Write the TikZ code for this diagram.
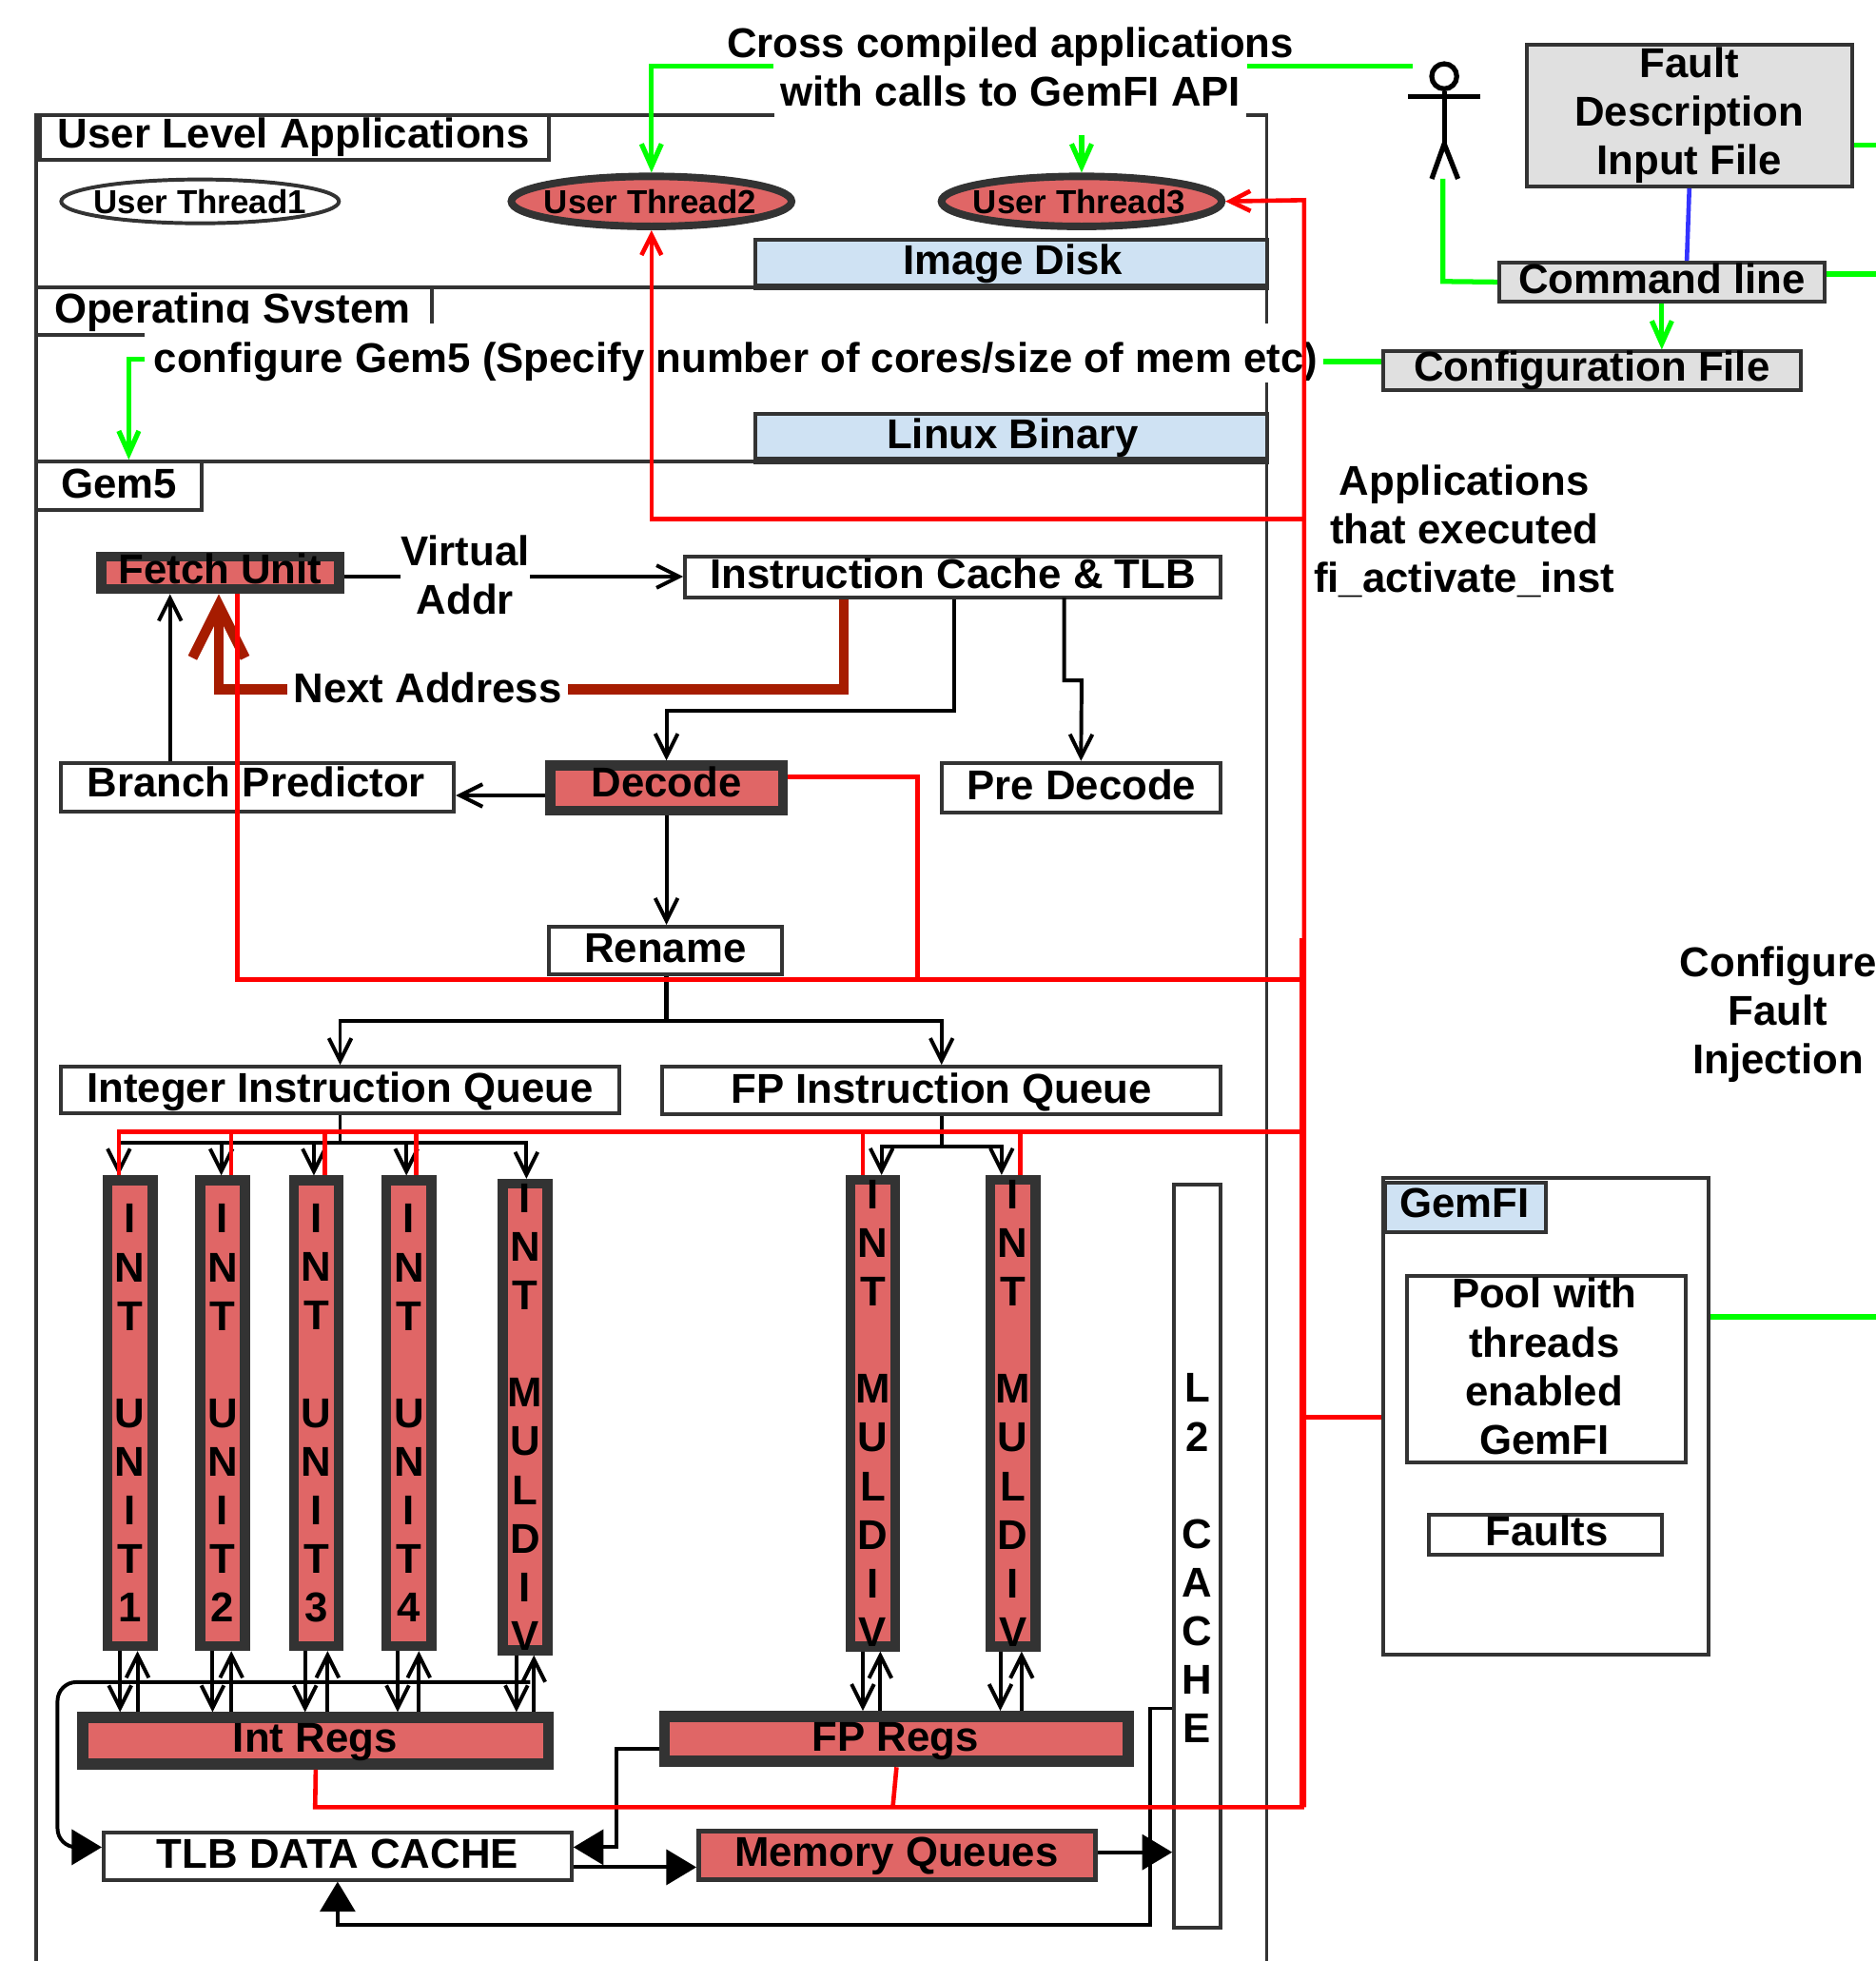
\documentclass[tikz,border=0pt]{standalone}
\usepackage{fontspec}
\setmainfont{Liberation Sans}
\usetikzlibrary{arrows.meta,shapes.geometric}
\definecolor{darkline}{HTML}{333333}
\definecolor{redfill}{HTML}{E06666}
\definecolor{bluefill}{HTML}{CFE2F3}
\definecolor{grayfill}{HTML}{E0E0E0}
\definecolor{darkred}{HTML}{A61C00}
\tikzset{
	every node/.style={font=\fontsize{9.47}{11.06}\selectfont\bfseries,inner sep=0pt,align=center},
	plainbox/.style={draw=darkline,fill=white,line width=.03cm},
	graybox/.style={plainbox,fill=grayfill},
	bluebox/.style={plainbox,fill=bluefill},
	redbox/.style={draw=darkline,fill=redfill,line width=.08cm},
	unitbox/.style={redbox,minimum width=.36cm,minimum height=3.72cm},
	threadnode/.style={ellipse,redbox,line width=.06cm,minimum width=2.24cm,minimum height=.40cm},
	threadtext/.style={font=\fontsize{7.55}{10}\selectfont\bfseries},
	whitelabel/.style={fill=white},
	frameline/.style={draw=darkline,line width=.03cm},
	blackline/.style={black,line width=.03cm,-{Straight Barb[length=.18cm,width=.18cm]}},
	bigline/.style={black,line width=.03cm,-{Triangle[length=.24cm,width=.28cm]}},
	greenline/.style={green,line width=.04cm},
	greenarrow/.style={greenline,-{Straight Barb[length=.18cm,width=.16cm]}},
	redline/.style={red,line width=.035cm},
	redarrow/.style={redline,-{Straight Barb[length=.16cm,width=.16cm]}}
}
\begin{document}
\begin{tikzpicture}[x=.01cm,y=-.01cm]
	\useasboundingbox (0,0) rectangle (1500,1568);
	% layers
	\draw[frameline] (29,1568) -- (29,92) -- (1013,92) -- (1013,1568);
	\draw[frameline] (29,230) -- (1013,230);
	\draw[frameline] (29,369) -- (1013,369);
	\node[plainbox,minimum width=4.07cm,minimum height=.36cm] (userlevel) at (235.5,110) {};
	\node at (235,110) {User Level Applications};
	\node[plainbox,minimum width=3.16cm,minimum height=.38cm] (osbox) at (187,249) {};
	\node at (186,250) {Operating System};
	\node[plainbox,minimum width=1.32cm,minimum height=.39cm] (gemfive) at (95,388.5) {};
	\node at (95,386.5) {Gem5};
	\node[bluebox,minimum width=4.09cm,minimum height=.36cm] (imagedisk) at (808.5,210) {};
	\node at (810,211) {Image Disk};
	\node[bluebox,minimum width=4.09cm,minimum height=.36cm] (linuxbinary) at (808.5,349) {};
	\node at (810,350) {Linux Binary};
	\draw[darkline,line width=.05cm] (imagedisk.south west) -- (imagedisk.south east);
	\draw[darkline,line width=.05cm] (linuxbinary.south west) -- (linuxbinary.south east);
	% text that cuts the frame
	\node[whitelabel,minimum width=3.77cm,minimum height=.92cm] (crosstext) at (808,61) {};
	\node at (808,53.5) {Cross compiled applications\\with calls to GemFI API};
	\node[whitelabel,minimum width=9.42cm,minimum height=.47cm] (configtext) at (587,282.5) {};
	\node at (588.5,289) {configure Gem5 (Specify number of cores/size of mem etc)};
	% threads
	\node[ellipse,plainbox,minimum width=2.22cm,minimum height=.35cm] (threadone) at (160,161) {};
	\node[threadnode] (threadtwo) at (521,161) {};
	\node[threadnode] (threadthree) at (865,161) {};
	\node[threadtext] at (160,161) {User Thread1};
	\node[threadtext] at (520,161) {User Thread2};
	\node[threadtext] at (863,161) {User Thread3};
	% user and input files
	\node[circle,draw=black,line width=.04cm,minimum size=.2cm] (userhead) at (1155,61) {};
	\coordinate (userhip) at (1155,115);
	\coordinate (userfoot) at (1154,143);
	\draw[black,line width=.04cm] (userhead.south) -- (userhip);
	\draw[black,line width=.04cm] (1126,77) -- (1184,77);
	\draw[black,line width=.04cm] (1145,143) -- (userhip) -- (1166,143);
	\node[graybox,minimum width=2.60cm,minimum height=1.13cm] (faultfile) at (1351,92.5) {};
	\node at (1351,92) {Fault\\Description\\Input File};
	\node[graybox,minimum width=2.60cm,minimum height=.31cm] (cmdline) at (1329,225.5) {};
	\node at (1329,223) {Command line};
	\node[graybox,minimum width=3.34cm,minimum height=.31cm] (configfile) at (1273,296.5) {};
	\node at (1273,296.5) {Configuration File};
	\coordinate (faultout) at (1500,116);
	\coordinate (cmdout) at (1500,219);
	\coordinate (gemfiout) at (1500,1053);
	\draw[greenline] (crosstext.east |- 0,53) -- (1130,53);
	\draw[greenarrow] (crosstext.west |- 0,53) -- (521,53) -- (threadtwo.north);
	\draw[greenarrow] (crosstext.south -| threadthree.north) -- (threadthree.north);
	\draw[greenline] (userfoot) -- (1154,225) -- (cmdline.west);
	\draw[greenline] (cmdline.east |- cmdout) -- (cmdout);
	\draw[greenline] (faultfile.east |- faultout) -- (faultout);
	\draw[blue!80!white,line width=.035cm] (faultfile.south) -- (cmdline.north -| 1349,0);
	\draw[greenarrow] (cmdline.south) -- (configfile.north -| cmdline.south);
	\draw[greenline] (configfile.west |- 0,289) -- (1058,289);
	\draw[greenarrow] (116,287) -- (103,287) -- (gemfive.north -| 103,0);
	% fetch stage
	\node[redbox,minimum width=1.90cm,minimum height=.26cm] (fetchunit) at (176,458) {};
	\node[plainbox,minimum width=4.28cm,minimum height=.33cm] (icache) at (762,461.5) {};
	\node[plainbox,minimum width=3.14cm,minimum height=.39cm] (branchpred) at (206,629.5) {};
	\node[redbox,minimum width=1.86cm,minimum height=.36cm] (decode) at (533,630) {};
	\node[plainbox,minimum width=2.23cm,minimum height=.40cm] (predecode) at (864.5,630) {};
	\node[plainbox,minimum width=1.86cm,minimum height=.38cm] (rename) at (532,760) {};
	\node[plainbox,minimum width=4.46cm,minimum height=.37cm] (intqueue) at (272,871.5) {};
	\node[plainbox,minimum width=4.46cm,minimum height=.38cm] (fpqueue) at (753,872) {};
	\draw[blackline] (fetchunit.east |- 0,461) -- (icache.west |- 0,461);
	\draw[blackline] ([xshift=.01cm]icache.south) -- (763,568) -- (533,568) -- (decode.north);
	\draw[blackline] (851,478) -- (851,544) -- (865,544) -- (predecode.north);
	\draw[blackline] (decode.west |- 0,636) -- (branchpred.east |- 0,636);
	\draw[blackline] (branchpred.north -| 136,0) -- (fetchunit.south -| 136,0);
	\draw[blackline] (decode.south) -- (rename.north -| decode.south);
	\draw[black,line width=.04cm] (rename.south -| 533,0) -- (533,816);
	\draw[blackline] (753,816) -- (272,816) -- (intqueue.north);
	\draw[blackline] (272,816) -- (753,816) -- (fpqueue.north);
	\draw[darkred,line width=.08cm,-{Straight Barb[length=.42cm,width=.42cm]}] (icache.south -| 675,0) -- (675,551) -- (175,551) -- (fetchunit.south -| 175,0);
	\node[whitelabel,minimum width=.86cm] (virtualaddr) at (372,460) {Virtual\\Addr};
	\node[whitelabel,minimum width=2.25cm,minimum height=.3cm] (nextaddr) at (342,550) {Next Address};
	\node at (176,455) {Fetch Unit};
	\node at (762,459) {Instruction Cache \& TLB};
	\node at (205,625.5) {Branch Predictor};
	\node at (533,625) {Decode};
	\node at (865,627.5) {Pre Decode};
	\node at (532,758) {Rename};
	\node at (272,873) {Integer Instruction Queue};
	\node at (753,873) {FP Instruction Queue};
	% execution units
	\node[unitbox] (intunita) at (104,1130) {I\\N\\T\\~\\U\\N\\I\\T\\1};
	\node[unitbox] (intunitb) at (178,1130) {I\\N\\T\\~\\U\\N\\I\\T\\2};
	\node[unitbox] (intunitc) at (253,1130) {I\\N\\T\\~\\U\\N\\I\\T\\3};
	\node[unitbox] (intunitd) at (327,1130) {I\\N\\T\\~\\U\\N\\I\\T\\4};
	\node[unitbox] (intmuldiv) at (420,1133) {I\\N\\T\\~\\M\\U\\L\\D\\I\\V};
	\node[unitbox] (fpmula) at (698,1130) {I\\N\\T\\~\\M\\U\\L\\D\\I\\V};
	\node[unitbox] (fpmulb) at (810,1130) {I\\N\\T\\~\\M\\U\\L\\D\\I\\V};
	\node[plainbox,minimum width=.37cm,minimum height=5.94cm] (ltwocache) at (957.5,1244) {};
	\node at (957.5,1246) {L\\2\\~\\C\\A\\C\\H\\E};
	\coordinate (intjoin) at (272,914);
	\coordinate (fpjoin) at (753,917);
	\draw[black,line width=.03cm] (intqueue.south) -- (intjoin);
	\draw[black,line width=.03cm] (fpqueue.south) -- (fpjoin);
	\draw[blackline] (intjoin) -- (95,914) -- (intunita.north -| 95,0);
	\draw[blackline] (177,914) -- (intunitb.north -| 177,0);
	\draw[blackline] (251,914) -- (intunitc.north -| 251,0);
	\draw[blackline] (325,914) -- (intunitd.north -| 325,0);
	\draw[blackline] (intjoin) -- (421,914) -- (intmuldiv.north -| 421,0);
	\draw[blackline] (fpjoin) -- (705,917) -- (fpmula.north -| 705,0);
	\draw[blackline] (fpjoin) -- (801,917) -- (fpmulb.north -| 801,0);
	% registers
	\node[redbox,line width=.09cm,minimum width=3.72cm,minimum height=.37cm] (intregs) at (252.5,1392) {};
	\node[redbox,line width=.09cm,minimum width=3.71cm,minimum height=.36cm] (fpregs) at (717,1390.5) {};
	\node at (252,1393) {Int Regs};
	\node at (716,1392) {FP Regs};
	\draw[blackline] (intunita.south -| 96,0) -- (intregs.north -| 96,0);
	\draw[blackline] (intregs.north -| 110,0) -- (intunita.south -| 110,0);
	\draw[blackline] (intunitb.south -| 170,0) -- (intregs.north -| 170,0);
	\draw[blackline] (intregs.north -| 185,0) -- (intunitb.south -| 185,0);
	\draw[blackline] (intunitc.south -| 244,0) -- (intregs.north -| 244,0);
	\draw[blackline] (intregs.north -| 262,0) -- (intunitc.south -| 262,0);
	\draw[blackline] (intunitd.south -| 318,0) -- (intregs.north -| 318,0);
	\draw[blackline] (intregs.north -| 335,0) -- (intunitd.south -| 335,0);
	\draw[blackline] (intmuldiv.south -| 413,0) -- (intregs.north -| 413,0);
	\draw[blackline] (intregs.north -| 427,0) -- (intmuldiv.south -| 427,0);
	\draw[blackline] (fpmula.south -| 690,0) -- (fpregs.north -| 690,0);
	\draw[blackline] (fpregs.north -| 704,0) -- (fpmula.south -| 704,0);
	\draw[blackline] (fpmulb.south -| 800,0) -- (fpregs.north -| 800,0);
	\draw[blackline] (fpregs.north -| 817,0) -- (fpmulb.south -| 817,0);
	% memory
	\node[plainbox,minimum width=3.74cm,minimum height=.38cm] (tlbcache) at (270,1484) {};
	\node[redbox,line width=.04cm,minimum width=3.17cm,minimum height=.39cm] (memqueues) at (717.5,1483.5) {};
	\node at (270,1482) {TLB DATA CACHE};
	\node at (717,1484) {Memory Queues};
	\draw[bigline,rounded corners=.15cm] (424,1345) -- (46,1345) -- (46,1477) -- (tlbcache.west |- 0,1477);
	\draw[bigline] (fpregs.west |- 0,1398) -- (493,1398) -- (493,1477) -- (tlbcache.east |- 0,1477);
	\draw[bigline] (tlbcache.east |- 0,1493) -- (memqueues.west |- 0,1493);
	\draw[bigline] (memqueues.east |- 0,1481) -- (ltwocache.west |- 0,1481);
	\draw[bigline] (ltwocache.west |- 0,1366) -- (920,1366) -- (920,1539) -- (270,1539) -- (tlbcache.south);
	% gemfi box
	\node[plainbox,minimum width=2.60cm,minimum height=3.81cm] (gemfibox) at (1236,1132.5) {};
	\node[bluebox,minimum width=1.29cm,minimum height=.39cm] (gemfilabel) at (1172,965.5) {};
	\node at (1171,962) {GemFI};
	\node[plainbox,minimum width=2.23cm,minimum height=1.49cm] (poolbox) at (1236.5,1094.5) {};
	\node at (1235,1092.5) {Pool with\\threads\\enabled\\GemFI};
	\node[plainbox,minimum width=1.86cm,minimum height=.32cm] (faultsbox) at (1236,1227) {};
	\node at (1237,1224) {Faults};
	\draw[greenline] (gemfibox.east |- gemfiout) -- (gemfiout);
	% red paths
	\draw[redarrow] (1043,415) -- (521,415) -- (threadtwo.south);
	\draw[redarrow] (1043,1445) -- (1043,160) -- (threadthree.east);
	\draw[redline] (1041,750) -- (1041,1445);
	\draw[redline] (fetchunit.south -| 190,0) -- (190,783) -- (1043,783);
	\draw[redline] (decode.east |- 0,621) -- (734,621) -- (734,783);
	\draw[redline] (1043,905) -- (95,905) -- (intunita.north -| 95,0);
	\draw[redline] (185,905) -- (intunitb.north -| 185,0);
	\draw[redline] (260,905) -- (intunitc.north -| 260,0);
	\draw[redline] (333,905) -- (intunitd.north -| 333,0);
	\draw[redline] (690,905) -- (fpmula.north -| 690,0);
	\draw[redline] (816,905) -- (fpmulb.north -| 816,0);
	\draw[redline] (intregs.south) -- (252,1445) -- (1043,1445);
	\draw[redline] (fpregs.south) -- (714,1445);
	\draw[redline] (1043,1133) -- (gemfibox.west |- 0,1133);
	% free labels
	\node (appslabel) at (1171,425) {Applications\\that executed\\fi\_activate\_inst};
	\node (configlabel) at (1422,811) {Configure\\Fault\\Injection};
\end{tikzpicture}
\end{document}
